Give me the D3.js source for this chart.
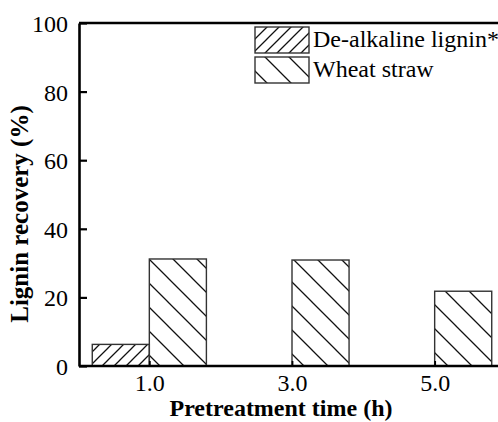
<!doctype html>
<html lang="en">
<head>
    <title>Lignin recovery</title>
    <script src="https://d3js.org/d3.v7.min.js"></script>
    <style>
        body { margin: 0; background: white; }
    </style>
</head>
<body>
    <div id="chart"></div>
    <script>
        // Chart data
        var times        = [1, 3, 5];
        var timeLabels   = ["1.0", "3.0", "5.0"];
        var deAlkaline   = [6.3, null, null];
        var wheatStraw   = [31.2, 30.9, 21.8];
        var yTicks       = [0, 20, 40, 60, 80, 100];
        var seriesNames  = ["De-alkaline lignin*", "Wheat straw"];

        // Graph size
        var width      = 498;
        var height     = 422;
        var plotLeft   = 79;
        var plotTop    = 23;
        var plotBottom = 366;
        var barW       = 0.8;
        var serif      = "'Liberation Serif', 'Times New Roman', Times, 'DejaVu Serif', serif";

        var svg = d3.select("#chart")
            .append("svg")
            .attr("width", width)
            .attr("height", height)
            .style("font-family", serif);

        // Hatch patterns
        var defs = svg.append("defs");
        defs.append("pattern")
            .attr("id", "slash")
            .attr("patternUnits", "userSpaceOnUse")
            .attr("width", 12).attr("height", 12)
            .append("path")
            .attr("d", "M0,12L12,0M-3,3L3,-3M9,15L15,9")
            .attr("stroke", "#111").attr("stroke-width", 1.3);
        defs.append("pattern")
            .attr("id", "backslash")
            .attr("patternUnits", "userSpaceOnUse")
            .attr("y", 14)
            .attr("width", 24).attr("height", 24)
            .append("path")
            .attr("d", "M0,0L24,24M-6,18L6,30M18,-6L30,6")
            .attr("stroke", "#111").attr("stroke-width", 1.3);

        // Scales
        var x = d3.scaleLinear().domain([0, 6]).range([78, 506]);
        var y = d3.scaleLinear().domain([0, 100]).range([plotBottom, plotTop]);

        // Bars
        var bars = [];
        times.forEach(function(t, i) {
            if (deAlkaline[i] != null) bars.push({ t: t, v: deAlkaline[i], side: -1, fill: "url(#slash)" });
            if (wheatStraw[i] != null) bars.push({ t: t, v: wheatStraw[i], side: 0, fill: "url(#backslash)" });
        });

        svg.selectAll("rect.bar")
            .data(bars)
            .enter()
            .append("rect")
            .attr("class", "bar")
            .attr("x", function(d) { return x(d.t + d.side * barW); })
            .attr("y", function(d) { return y(d.v); })
            .attr("width", function(d) { return x(barW) - x(0); })
            .attr("height", function(d) { return y(0) - y(d.v); })
            .attr("fill", function(d) { return d.fill; })
            .attr("stroke", "#333")
            .attr("stroke-width", 1.4);

        // Y axis (ticks pointing inward)
        var yAxis = svg.append("g")
            .attr("transform", "translate(" + plotLeft + ",0)")
            .call(d3.axisLeft(y).tickValues(yTicks).tickSizeInner(-8).tickSizeOuter(0).tickPadding(11));
        yAxis.attr("font-family", null).attr("font-size", null);
        yAxis.select(".domain").attr("stroke-width", 2.6);
        yAxis.selectAll(".tick line").attr("stroke-width", 2.2);
        yAxis.selectAll(".tick text")
            .style("font-family", serif)
            .style("font-size", "24px")
            .attr("dy", "0.35em");

        // X axis
        var xAxis = svg.append("g")
            .attr("transform", "translate(0," + plotBottom + ")")
            .call(d3.axisBottom(x).tickValues(times).tickSizeInner(-5).tickSizeOuter(0).tickPadding(8)
                .tickFormat(function(d, i) { return timeLabels[i]; }));
        xAxis.attr("font-family", null).attr("font-size", null);
        xAxis.select(".domain").attr("d", "M" + plotLeft + ",0H" + width).attr("stroke-width", 2.6);
        xAxis.selectAll(".tick line").attr("stroke-width", 1.8);
        xAxis.selectAll(".tick text")
            .style("font-family", serif)
            .style("font-size", "24px")
            .attr("dy", "0.71em");

        // Top frame line
        svg.append("line")
            .attr("x1", plotLeft).attr("x2", width)
            .attr("y1", plotTop).attr("y2", plotTop)
            .attr("stroke", "black").attr("stroke-width", 2.6);

        // Axis titles
        svg.append("text")
            .attr("transform", "translate(28,214) rotate(-90)")
            .attr("text-anchor", "middle")
            .style("font-family", serif)
            .style("font-size", "25px")
            .style("font-weight", "bold")
            .text("Lignin recovery (%)");
        svg.append("text")
            .attr("x", 281).attr("y", 416)
            .attr("text-anchor", "middle")
            .style("font-family", serif)
            .style("font-size", "24px")
            .style("font-weight", "bold")
            .text("Pretreatment time (h)");

        // Legend
        var legend = svg.selectAll("g.legend")
            .data(seriesNames)
            .enter()
            .append("g")
            .attr("class", "legend")
            .attr("transform", function(d, i) { return "translate(255," + (27 + i * 30) + ")"; });
        legend.append("rect")
            .attr("width", 54).attr("height", 26)
            .attr("fill", function(d, i) { return i == 0 ? "url(#slash)" : "url(#backslash)"; })
            .attr("stroke", "#333").attr("stroke-width", 1.4);
        legend.append("text")
            .attr("x", 58).attr("y", 20)
            .style("font-family", serif)
            .style("font-size", "24px")
            .text(function(d) { return d; });
    </script>
</body>
</html>
